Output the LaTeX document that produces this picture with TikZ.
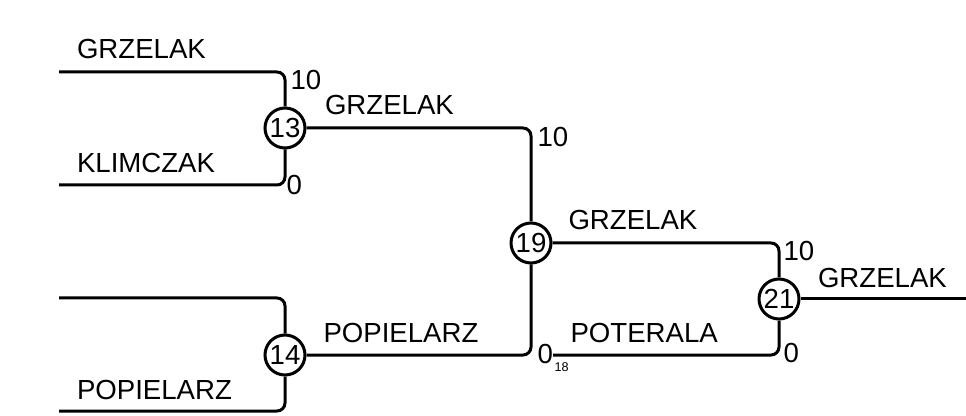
\documentclass[tikz,border=0pt]{standalone}
\usepackage{fontspec}
\setmainfont{Liberation Sans}
\usetikzlibrary{positioning}

\begin{document}
\begin{tikzpicture}[
  x=0.75pt, y=-0.75pt,
  line width=2.25pt,
  font=\fontsize{20.7}{24}\selectfont,
  game/.style={draw, circle, inner sep=0pt, minimum size=30pt},
  player/.style={anchor=base west, inner sep=0pt},
  score/.style={anchor=base west, inner sep=0pt},
  src/.style={anchor=base west, inner sep=0pt, font=\fontsize{9.5}{11}\selectfont},
  link/.style={rounded corners=6pt},
]
  \useasboundingbox (0,0) rectangle (966,416);

  % --- entries and matches ----------------------------------------
  \coordinate (a1) at (59,72);
  \coordinate (a2) at (59,185);
  \coordinate (b1) at (59,298);
  \coordinate (b2) at (59,411);
  \coordinate (c2) at (553,355);
  \coordinate (fin) at (966,299);

  \node[game] (m13) at (285,128) {13};
  \node[game] (m14) at (285,355) {14};
  \node[game] (m19) at (531,243) {19};
  \node[game] (m21) at (779,299) {21};

  \draw[link] (a1) -| (m13);
  \draw[link] (a2) -| (m13);
  \draw[link] (b1) -| (m14);
  \draw[link] (b2) -| (m14);
  \draw[link] (m13) -| (m19);
  \draw[link] (m14) -| (m19);
  \draw[link] (m19) -| (m21);
  \draw[link] (c2) -| (m21);
  \draw (m21) -- (fin);

  % --- names ------------------------------------------------------
  \node[player] (p1) at (75.5,58.5) {GRZELAK};
  \node[player] (p2) at (75.5,173) {KLIMCZAK};
  \node[player] (p3) at (75.5,399) {POPIELARZ};
  \node[player] (w13) at (323.5,115) {GRZELAK};
  \node[player] (w14) at (322,342) {POPIELARZ};
  \node[player] (w19) at (567,230) {GRZELAK};
  \node[player] (w18) at (569,342) {POTERALA};
  \node[player] (w21) at (816.5,287) {GRZELAK};

  % --- scores -----------------------------------------------------
  \node[score] (s13a) at (289,90) {10};
  \node[score] (s13b) at (285,195) {0};
  \node[score] (s19a) at (536,147) {10};
  \node[score] (s19b) at (536,363) {0};
  \node[src] (r18) at (553,371) {18};
  \node[score] (s21a) at (782,261) {10};
  \node[score] (s21b) at (782,362) {0};
\end{tikzpicture}
\end{document}
